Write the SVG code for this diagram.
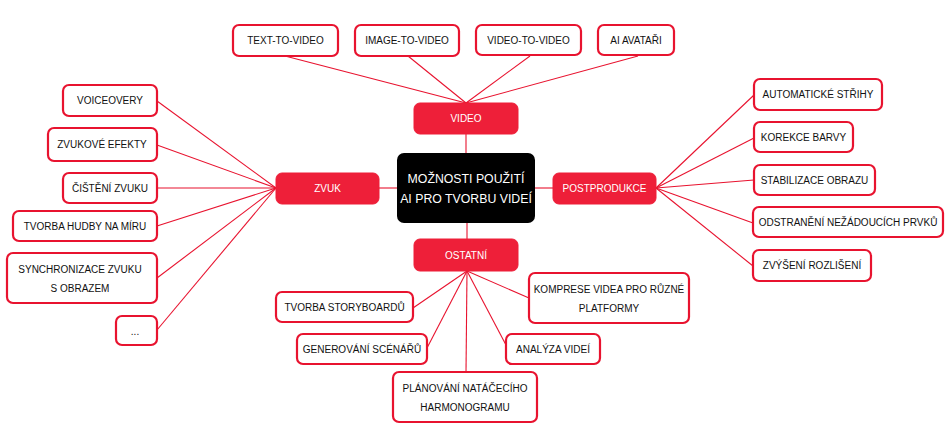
<svg xmlns="http://www.w3.org/2000/svg" width="950" height="443" viewBox="0 0 950 443">
<style>
.leaf rect{fill:#fff;stroke:#e8132f;stroke-width:2.2}
.cat rect{fill:#ee1f39;stroke:#ee1f39;stroke-width:1}
.root rect{fill:#000}
text{font-family:"Liberation Sans",Arial,sans-serif;font-size:10px;text-anchor:middle;fill:#111}
.cat text{fill:#fff;font-size:10px}
.root text{fill:#fff;font-size:12.3px}
#connectors line{stroke:#e8132f;stroke-width:1.1}
</style>
<rect width="950" height="443" fill="#fff"/>
<g id="connectors">
<line x1="466" y1="134" x2="466" y2="153"/>
<line x1="379" y1="188" x2="397" y2="188"/>
<line x1="535" y1="188" x2="553" y2="188"/>
<line x1="467" y1="223" x2="467" y2="239"/>
<line x1="285" y1="56" x2="466" y2="103"/>
<line x1="408" y1="56" x2="466" y2="103"/>
<line x1="530" y1="56" x2="466" y2="103"/>
<line x1="638" y1="56" x2="466" y2="103"/>
<line x1="157" y1="101" x2="276" y2="188"/>
<line x1="157" y1="145" x2="276" y2="188"/>
<line x1="157" y1="188" x2="276" y2="188"/>
<line x1="157" y1="226" x2="276" y2="188"/>
<line x1="157" y1="278" x2="276" y2="188"/>
<line x1="157" y1="330" x2="276" y2="188"/>
<line x1="656" y1="188" x2="754" y2="95"/>
<line x1="656" y1="188" x2="754" y2="138"/>
<line x1="656" y1="188" x2="754" y2="180"/>
<line x1="656" y1="188" x2="753" y2="223"/>
<line x1="656" y1="188" x2="753" y2="266"/>
<line x1="467" y1="271" x2="413" y2="308"/>
<line x1="467" y1="271" x2="427" y2="348"/>
<line x1="467" y1="271" x2="466" y2="372"/>
<line x1="467" y1="271" x2="506" y2="345"/>
<line x1="467" y1="271" x2="529" y2="298"/>
</g>
<g id="root" class="root"><rect x="397" y="153" width="138" height="70" rx="7"/><text x="466" y="183">MOŽNOSTI POUŽITÍ</text><text x="466" y="203">AI PRO TVORBU VIDEÍ</text></g>
<g id="video" class="cat"><rect x="414" y="103" width="104" height="31" rx="6"/><text x="466" y="122">VIDEO</text></g>
<g id="zvuk" class="cat"><rect x="276" y="173" width="103" height="31" rx="6"/><text x="327.5" y="192">ZVUK</text></g>
<g id="postprodukce" class="cat"><rect x="553" y="173" width="103" height="31" rx="6"/><text x="604.5" y="192">POSTPRODUKCE</text></g>
<g id="ostatni" class="cat"><rect x="414" y="239" width="104" height="32" rx="6"/><text x="466" y="259">OSTATNÍ</text></g>
<g id="text-to-video" class="leaf"><rect x="233" y="25" width="105" height="31" rx="6"/><text x="285.5" y="44">TEXT-TO-VIDEO</text></g>
<g id="image-to-video" class="leaf"><rect x="355" y="25" width="104" height="31" rx="6"/><text x="407" y="44">IMAGE-TO-VIDEO</text></g>
<g id="video-to-video" class="leaf"><rect x="476" y="25" width="105" height="30" rx="6"/><text x="528.5" y="44">VIDEO-TO-VIDEO</text></g>
<g id="ai-avatari" class="leaf"><rect x="598" y="25" width="76" height="30" rx="6"/><text x="636" y="44">AI AVATAŘI</text></g>
<g id="voiceovery" class="leaf"><rect x="63" y="85" width="94" height="31" rx="6"/><text x="110" y="104">VOICEOVERY</text></g>
<g id="zvukove-efekty" class="leaf"><rect x="48" y="128" width="109" height="33" rx="6"/><text x="102" y="148">ZVUKOVÉ EFEKTY</text></g>
<g id="cisteni-zvuku" class="leaf"><rect x="63" y="173" width="94" height="30" rx="6"/><text x="110" y="192">ČIŠTĚNÍ ZVUKU</text></g>
<g id="tvorba-hudby" class="leaf"><rect x="13" y="211" width="144" height="30" rx="6"/><text x="85" y="230">TVORBA HUDBY NA MÍRU</text></g>
<g id="synchronizace" class="leaf"><rect x="7" y="253" width="150" height="50" rx="6"/><text x="80" y="273">SYNCHRONIZACE ZVUKU</text><text x="80" y="292">S OBRAZEM</text></g>
<g id="dots" class="leaf"><rect x="116" y="316" width="41" height="29" rx="6"/><text x="135" y="335">...</text></g>
<g id="automaticke-strihy" class="leaf"><rect x="754" y="79" width="128" height="31" rx="6"/><text x="818" y="98">AUTOMATICKÉ STŘIHY</text></g>
<g id="korekce-barvy" class="leaf"><rect x="754" y="122" width="99" height="30" rx="6"/><text x="803.5" y="141">KOREKCE BARVY</text></g>
<g id="stabilizace" class="leaf"><rect x="754" y="165" width="121" height="30" rx="6"/><text x="814.5" y="184">STABILIZACE OBRAZU</text></g>
<g id="odstraneni" class="leaf"><rect x="753" y="207" width="190" height="30" rx="6"/><text x="848" y="226">ODSTRANĚNÍ NEŽÁDOUCÍCH PRVKŮ</text></g>
<g id="zvyseni" class="leaf"><rect x="753" y="250" width="118" height="31" rx="6"/><text x="812" y="269">ZVÝŠENÍ ROZLIŠENÍ</text></g>
<g id="storyboard" class="leaf"><rect x="276" y="292" width="137" height="30" rx="6"/><text x="344.5" y="311">TVORBA STORYBOARDŮ</text></g>
<g id="generovani" class="leaf"><rect x="297" y="334" width="130" height="30" rx="6"/><text x="362" y="353">GENEROVÁNÍ SCÉNÁŘŮ</text></g>
<g id="planovani" class="leaf"><rect x="393" y="372" width="144" height="50" rx="6"/><text x="465" y="392">PLÁNOVÁNÍ NATÁČECÍHO</text><text x="465" y="411">HARMONOGRAMU</text></g>
<g id="analyza" class="leaf"><rect x="506" y="334" width="94" height="30" rx="6"/><text x="553" y="353">ANALÝZA VIDEÍ</text></g>
<g id="komprese" class="leaf"><rect x="529" y="273" width="160" height="50" rx="6"/><text x="609" y="293">KOMPRESE VIDEA PRO RŮZNÉ</text><text x="609" y="312">PLATFORMY</text></g>
</svg>
